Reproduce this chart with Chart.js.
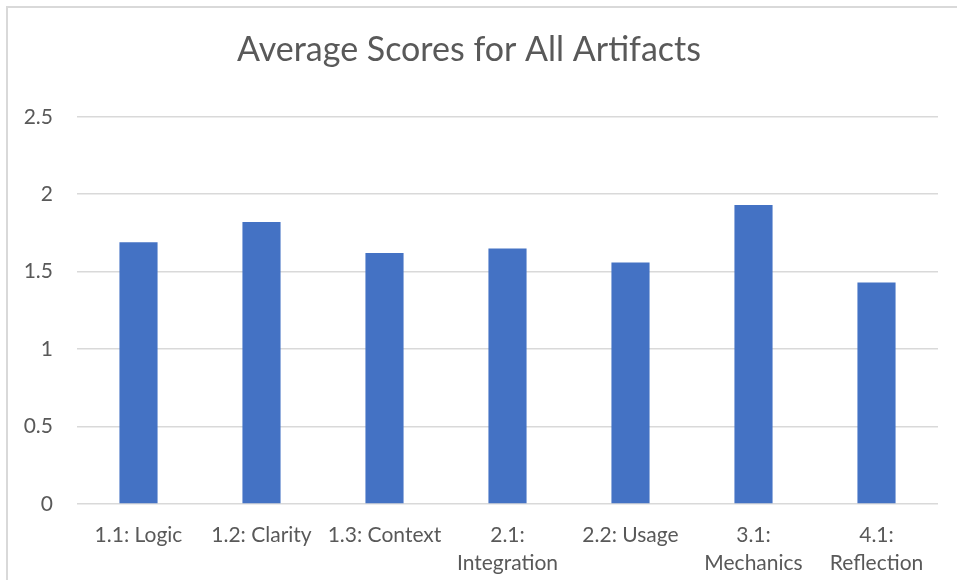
<!DOCTYPE html>
<html>
<head>
<meta charset="utf-8">
<script src="https://cdn.jsdelivr.net/npm/chart.js@4"></script>
<style>
  html, body { margin: 0; padding: 0; background: #fff; overflow: hidden; }
  #frame { position: absolute; left: 6px; top: 6px; width: 980px; height: 600px; border: 2px solid #d9d9d9; box-sizing: border-box; }
  #wrap { position: absolute; left: 0; top: 0; width: 957px; height: 580px; }
</style>
</head>
<body>
<div id="frame"></div>
<div id="wrap"><canvas id="myChart"></canvas></div>
<script>
var categories = ['1.1: Logic', '1.2: Clarity', '1.3: Context', ['2.1:', 'Integration'], '2.2: Usage', ['3.1:', 'Mechanics'], ['4.1:', 'Reflection']];
var scores = [1.69, 1.82, 1.62, 1.65, 1.56, 1.93, 1.43];
var yTicks = [0, 0.5, 1, 1.5, 2, 2.5];

var fontName = 'Lato';
var textColor = '#595959';

var ctx = document.getElementById('myChart').getContext('2d');
var myChart = new Chart(ctx, {
    type: 'bar',
    data: {
        labels: categories,
        datasets: [{
            label: 'Average Score',
            data: scores,
            backgroundColor: '#4472c4',
            borderWidth: 0,
            categoryPercentage: 1,
            barPercentage: 0.31
        }]
    },
    options: {
        responsive: true,
        maintainAspectRatio: false,
        animation: false,
        layout: { padding: { left: 0, right: 19, top: 0, bottom: 0 } },
        plugins: {
            legend: { display: false },
            tooltip: { enabled: false },
            title: {
                display: true,
                text: 'Average Scores for All Artifacts',
                color: textColor,
                font: { family: fontName, size: 34, weight: 'normal', lineHeight: 1.2 },
                padding: { top: 30, bottom: 46 }
            }
        },
        scales: {
            x: {
                grid: { display: false, drawTicks: false },
                border: { display: false },
                ticks: {
                    color: textColor,
                    font: { family: fontName, size: 21, lineHeight: 1.33 },
                    padding: 17,
                    maxRotation: 0,
                    autoSkip: false
                },
                afterFit: function(scale) { scale.height = 76; }
            },
            y: {
                min: 0,
                max: 2.5,
                afterBuildTicks: function(scale) {
                    scale.ticks = yTicks.map(function(v) { return { value: v }; });
                },
                grid: { color: '#d9d9d9', lineWidth: 1.5, drawTicks: false },
                border: { display: false },
                ticks: {
                    color: textColor,
                    font: { family: fontName, size: 21 },
                    padding: 24,
                    callback: function(v) { return String(v); }
                },
                afterFit: function(scale) { scale.width = 77; }
            }
        }
    }
});
</script>
</body>
</html>
